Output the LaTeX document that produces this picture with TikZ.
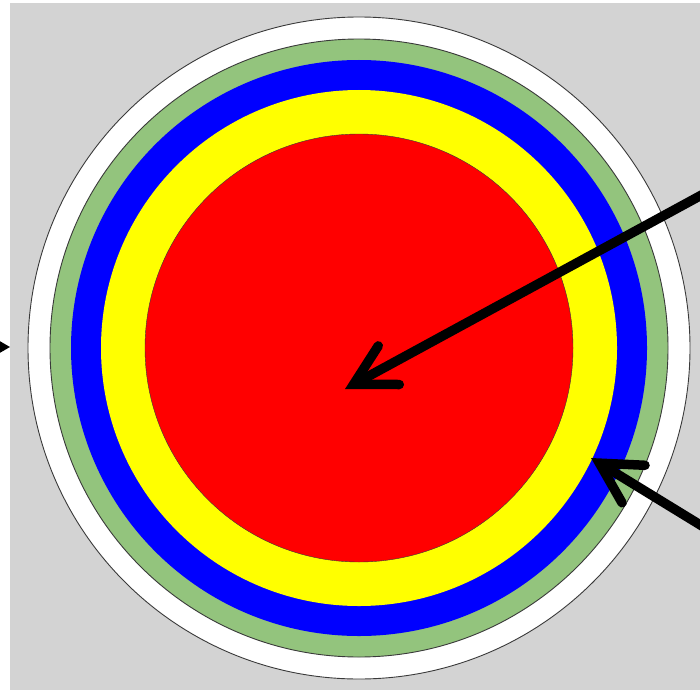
\documentclass[tikz,border=0pt]{standalone}
\usepackage{tikz}
\usetikzlibrary{arrows.meta}
\definecolor{bgx}{HTML}{D3D3D3}
\definecolor{greenx}{HTML}{93C47D}
\definecolor{bluex}{HTML}{0000FF}
\definecolor{yellowx}{HTML}{FFFF00}
\definecolor{redx}{HTML}{FF0000}
\definecolor{rimx}{HTML}{3A3A3A}
\tikzset{
  ptr/.style={-{Straight Barb[length=40pt,width=44pt,line cap=round]},line width=9.5pt,line cap=round,black},
  ring/.style={draw=rimx,line width=0.9pt}
}
\begin{document}
\begin{tikzpicture}[x=1pt,y=-1pt]
\useasboundingbox (0,0) rectangle (700,690);
\fill[white] (0,0) rectangle (700,690);
\fill[bgx] (10,3) rectangle (700,690);
% layers from outside in
\coordinate (c) at (359,348);
\filldraw[fill=white,ring] (c) circle[radius=331pt];
\filldraw[fill=greenx,ring] (c) circle[radius=309pt];
\fill[bluex] (c) circle[radius=288pt];
\fill[yellowx] (c) circle[radius=258pt];
\filldraw[fill=redx,draw=rimx,line width=0.4pt] (c) circle[radius=214pt];
% pointers
\coordinate (farA) at (720,185);
\coordinate (core) at (345,389);
\coordinate (farB) at (720,537);
\coordinate (seam) at (591,458);
\coordinate (offL) at (-40,347);
\coordinate (edgeL) at (10,347);
\draw[ptr] (farA) -- (core);
\draw[ptr] (farB) -- (seam);
\draw[-{Triangle[length=16pt,width=18pt]},line width=2pt] (offL) -- (edgeL);
\end{tikzpicture}
\end{document}
